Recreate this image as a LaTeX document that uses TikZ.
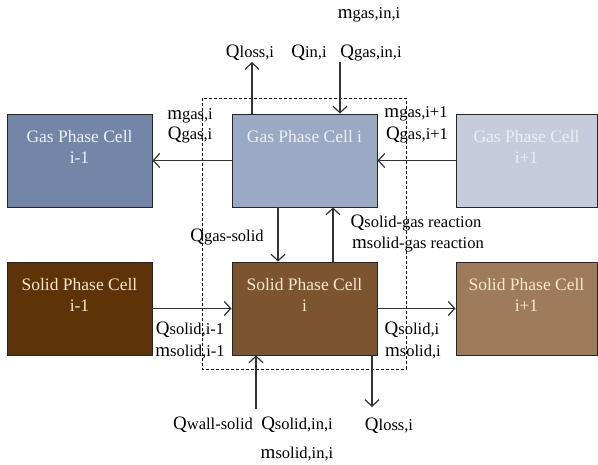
\documentclass[tikz,border=0pt]{standalone}
\usepackage{fontspec}
\setmainfont{Liberation Serif}
\usetikzlibrary{arrows.meta}

\definecolor{gasprevfill}{RGB}{115,134,168}
\definecolor{gascurfill}{RGB}{154,169,196}
\definecolor{gasnextfill}{RGB}{199,204,220}
\definecolor{solidprevfill}{RGB}{94,51,8}
\definecolor{solidcurfill}{RGB}{125,84,48}
\definecolor{solidnextfill}{RGB}{158,123,90}
\definecolor{gastext}{RGB}{236,239,245}
\definecolor{solidtext}{RGB}{245,232,204}
\definecolor{flowgray}{RGB}{50,50,50}

% big first letter, smaller rest
\newcommand{\qlbl}[2]{{\fontsize{19}{19}\selectfont #1}{\fontsize{16.5}{16.5}\selectfont #2}}

\begin{document}
\begin{tikzpicture}[x=1pt, y=-1pt,
    cell/.style={draw=black!85, line width=0.9pt, minimum width=145pt, minimum height=93pt, inner sep=0pt},
    celltext/.style={anchor=north, align=center, inner sep=0pt, font=\fontsize{17.5}{21}\selectfont},
    flow/.style={draw=flowgray, line width=1.2pt, -{Straight Barb[length=6.5pt,width=14pt]}},
    tag/.style={anchor=base, inner sep=0pt}]
    \useasboundingbox (0,0) rectangle (598,464);

    % Cells
    \node[cell, fill=gasprevfill] (gasprev) at (79.5,160.5) {};
    \node[cell, fill=gascurfill] (gascur) at (304.5,160.5) {};
    \node[cell, fill=gasnextfill, minimum width=141pt] (gasnext) at (526.5,160.5) {};
    \node[cell, fill=solidprevfill] (solidprev) at (79.5,308.5) {};
    \node[cell, fill=solidcurfill] (solidcur) at (304.5,308.5) {};
    \node[cell, fill=solidnextfill, minimum width=141pt] (solidnext) at (526.5,308.5) {};

    \node[celltext, text=gastext] (gasprevtxt) at (79.5,130) {Gas Phase Cell\\i-1};
    \node[celltext, text=gastext] (gascurtxt) at (304.5,130) {Gas Phase Cell i};
    \node[celltext, text=gastext] (gasnexttxt) at (526.5,130) {Gas Phase Cell\\i+1};
    \node[celltext, text=solidtext] (solidprevtxt) at (79.5,278) {Solid Phase Cell\\i-1};
    \node[celltext, text=solidtext] (solidcurtxt) at (304.5,278) {Solid Phase Cell\\i};
    \node[celltext, text=solidtext] (solidnexttxt) at (526.5,278) {Solid Phase Cell\\i+1};

    % Control volume
    \draw[dashed, dash pattern=on 3pt off 2pt, line width=0.8pt] (202,98) rectangle (406,369);

    % Free ends
    \coordinate (lossup) at (252,62);
    \coordinate (gasin) at (340,62);
    \coordinate (wallin) at (256,409);
    \coordinate (lossdown) at (372,407);

    % Flows
    \draw[flow] (gascur.west) -- (gasprev.east);
    \draw[flow] (gasnext.west) -- (gascur.east);
    \draw[flow] (gascur.north -| lossup) -- (lossup);
    \draw[flow] (gasin) -- (gasin |- gascur.north);
    \draw[flow] ([xshift=-26.5pt]gascur.south) -- ([xshift=-26.5pt]solidcur.north);
    \draw[flow] ([xshift=28.5pt]solidcur.north) -- ([xshift=28.5pt]gascur.south);
    \draw[flow] (solidprev.east) -- (solidcur.west);
    \draw[flow] (solidcur.east) -- (solidnext.west);
    \draw[flow] (wallin) -- (wallin |- solidcur.south);
    \draw[flow] (solidcur.south -| lossdown) -- (lossdown);

    % Labels
    \node[tag] (lbllossup) at (250,57) {\qlbl{Q}{loss,i}};
    \node[tag] (lblqin) at (309,57) {\qlbl{Q}{in,i}};
    \node[tag] (lblqgasin) at (371,57) {\qlbl{Q}{gas,in,i}};
    \node[tag] (lblmgasin) at (369,18) {\qlbl{m}{gas,in,i}};
    \node[tag] (lblmgas) at (190,119) {\qlbl{m}{gas,i}};
    \node[tag] (lblqgas) at (190,139) {\qlbl{Q}{gas,i}};
    \node[tag] (lblmgasnext) at (416,117) {\qlbl{m}{gas,i+1}};
    \node[tag] (lblqgasnext) at (417,139) {\qlbl{Q}{gas,i+1}};
    \node[tag] (lblgassolid) at (227,241) {\qlbl{Q}{gas-solid}};
    \node[tag] (lblqreact) at (416,227) {\qlbl{Q}{solid-gas reaction}};
    \node[tag] (lblmreact) at (418,248) {\qlbl{m}{solid-gas reaction}};
    \node[tag] (lblqsolidprev) at (190,334) {\qlbl{Q}{solid,i-1}};
    \node[tag] (lblmsolidprev) at (190,356) {\qlbl{m}{solid,i-1}};
    \node[tag] (lblqsolid) at (412,334) {\qlbl{Q}{solid,i}};
    \node[tag] (lblmsolid) at (413,356) {\qlbl{m}{solid,i}};
    \node[tag] (lblwall) at (213,429) {\qlbl{Q}{wall-solid}};
    \node[tag] (lblqsolidin) at (297,429) {\qlbl{Q}{solid,in,i}};
    \node[tag] (lblmsolidin) at (297,458) {\qlbl{m}{solid,in,i}};
    \node[tag] (lbllossdown) at (389,430) {\qlbl{Q}{loss,i}};

\end{tikzpicture}
\end{document}
